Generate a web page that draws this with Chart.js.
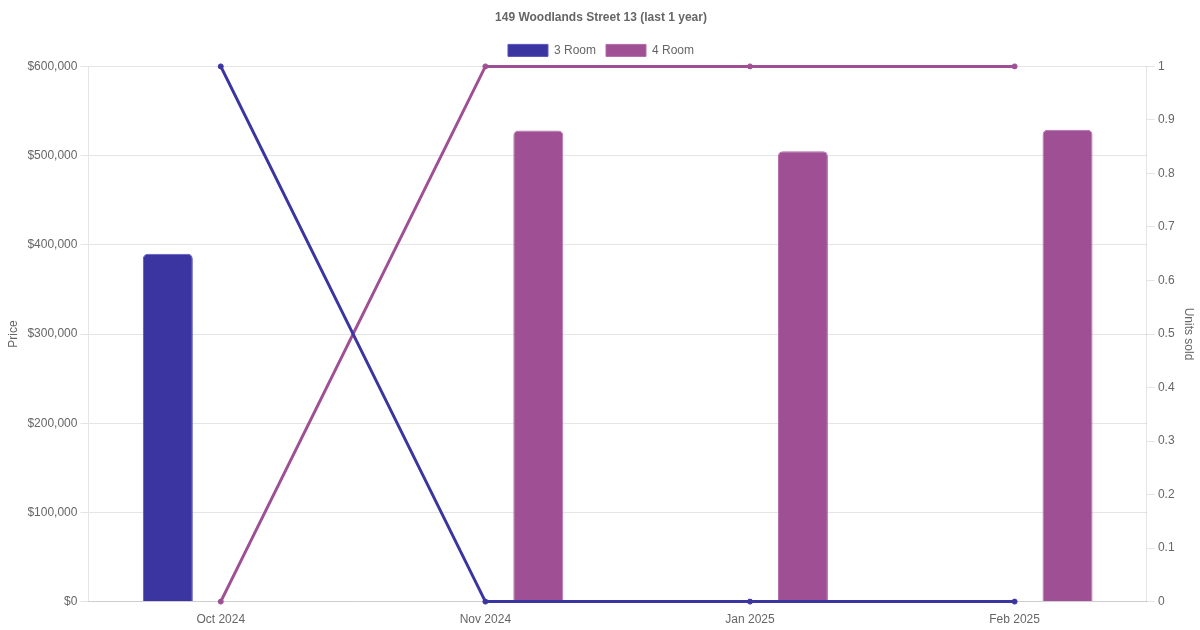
<!DOCTYPE html>
<html>
<head>
<meta charset="utf-8">
<script src="https://cdn.jsdelivr.net/npm/chart.js@4/dist/chart.umd.min.js"></script>
<style>
  html, body { margin: 0; padding: 0; background: #fff; }
  #wrap { width: 1200px; height: 630px; }
</style>
</head>
<body>
<div id="wrap"><canvas id="myChart"></canvas></div>
<script>
var months = ["Oct 2024", "Nov 2024", "Jan 2025", "Feb 2025"];
var price3Room = [390000, null, null, null];
var price4Room = [null, 528000, 505000, 529000];
var units3Room = [1, 0, 0, 0];
var units4Room = [0, 1, 1, 1];
var priceTicks = [0, 100000, 200000, 300000, 400000, 500000, 600000];

var color3 = "rgb(58, 53, 160)";
var color4 = "rgb(159, 80, 148)";

Chart.defaults.font.family = "'Liberation Sans', Arial, sans-serif";
Chart.defaults.color = "#666";

var ctx = document.getElementById("myChart").getContext("2d");
var myChart = new Chart(ctx, {
  type: "bar",
  data: {
    labels: months,
    datasets: [
      {
        label: "3 Room",
        data: price3Room,
        backgroundColor: color3,
        borderColor: "rgba(90, 85, 190, 1)",
        borderWidth: 1,
        borderRadius: 5,
        borderSkipped: "bottom",
        maxBarThickness: 50,
        yAxisID: "y",
        order: 2
      },
      {
        label: "4 Room",
        data: price4Room,
        backgroundColor: color4,
        borderColor: "rgba(180, 105, 170, 1)",
        borderWidth: 1,
        borderRadius: 5,
        borderSkipped: "bottom",
        maxBarThickness: 50,
        yAxisID: "y",
        order: 2
      },
      {
        type: "line",
        label: "3 Room units",
        data: units3Room,
        borderColor: color3,
        backgroundColor: color3,
        borderWidth: 3,
        pointRadius: 2.5,
        pointBorderWidth: 1,
        tension: 0,
        clip: false,
        yAxisID: "y1",
        order: 1
      },
      {
        type: "line",
        label: "4 Room units",
        data: units4Room,
        borderColor: color4,
        backgroundColor: color4,
        borderWidth: 3,
        pointRadius: 2.5,
        pointBorderWidth: 1,
        tension: 0,
        clip: false,
        yAxisID: "y1",
        order: 1
      }
    ]
  },
  options: {
    responsive: true,
    maintainAspectRatio: false,
    animation: false,
    layout: { padding: { left: 2 } },
    plugins: {
      title: {
        display: true,
        text: "149 Woodlands Street 13 (last 1 year)",
        font: { size: 12, weight: "bold" },
        padding: { top: 10, bottom: 10 }
      },
      legend: {
        labels: {
          boxWidth: 40,
          boxHeight: 12,
          font: { size: 12 },
          filter: function (item) {
            return item.datasetIndex < 2;
          }
        }
      },
      tooltip: { enabled: false }
    },
    scales: {
      x: {
        grid: { display: false },
        ticks: { font: { size: 12 } }
      },
      y: {
        position: "left",
        min: 0,
        max: 600000,
        afterBuildTicks: function (axis) {
          axis.ticks = priceTicks.map(function (v) { return { value: v }; });
        },
        ticks: {
          font: { size: 12 },
          callback: function (v) {
            return "$" + v.toLocaleString("en-US");
          }
        },
        title: { display: true, text: "Price", font: { size: 12 } }
      },
      y1: {
        position: "right",
        min: 0,
        max: 1,
        grid: { drawOnChartArea: false },
        ticks: {
          stepSize: 0.1,
          font: { size: 12 },
          callback: function (v) {
            return String(Math.round(v * 10) / 10);
          }
        },
        title: { display: true, text: "Units sold", font: { size: 12 } }
      }
    }
  }
});
</script>
</body>
</html>
